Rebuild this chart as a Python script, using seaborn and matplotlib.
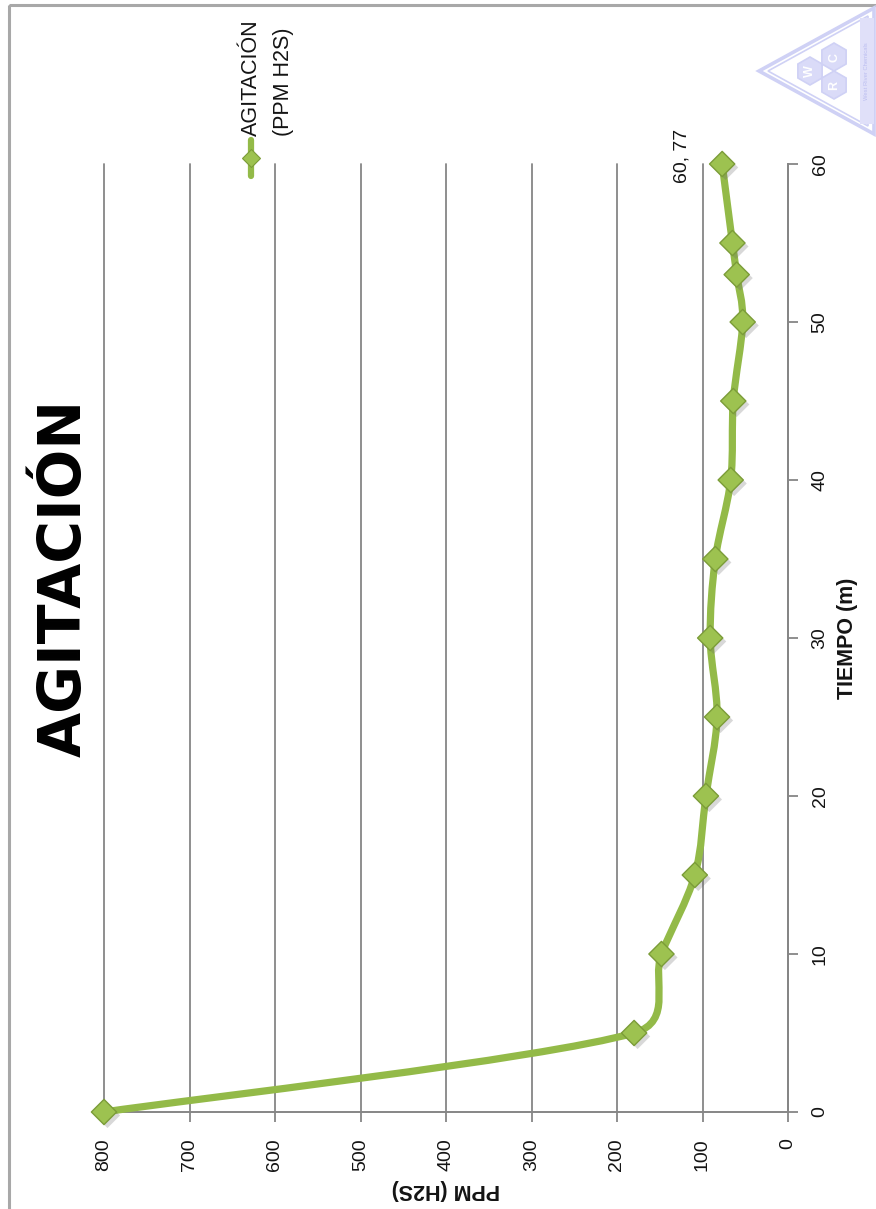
import numpy as np
import matplotlib
matplotlib.use("Agg")
import matplotlib.pyplot as plt
import matplotlib.patheffects as pe
from matplotlib.path import Path
from matplotlib.patches import PathPatch, Polygon, RegularPolygon, Rectangle
from matplotlib.lines import Line2D
from matplotlib import font_manager as fm
import seaborn as sns

# ---- data ---------------------------------------------------------------
tiempo_min = [0, 5, 10, 15, 20, 25, 30, 35, 40, 45, 50, 53, 55, 60]
ppm_h2s = [800, 180, 148, 109, 96, 83, 91, 85, 67, 64, 53, 60, 65, 77]
ppm_ticks = [0, 100, 200, 300, 400, 500, 600, 700, 800]
tiempo_ticks = [0, 10, 20, 30, 40, 50, 60]

titulo = "AGITACIÓN"
serie = "AGITACIÓN"
serie_unidad = "(PPM H2S)"
eje_ppm = "PPM (H2S)"
eje_tiempo = "TIEMPO (m)"

# ---- style --------------------------------------------------------------
sns.set_theme(style="white")
avail = {f.name for f in fm.fontManager.ttflist}


def pick(*names):
    for n in names:
        if n in avail:
            return n
    return "DejaVu Sans"


body_font = pick("Liberation Sans Narrow", "Liberation Sans", "Open Sans")
title_font = pick("DejaVu Sans")
plt.rcParams["font.family"] = [body_font, "DejaVu Sans"]

W, H = 876, 1209
LINE = "#93BA48"
MFACE = "#9DC250"
MEDGE = "#7B9C38"
AXC = "#868686"
TXT = "#141414"
FS = 14

fig = plt.figure(figsize=(W / 100, H / 100), dpi=100)
fig.patch.set_facecolor("white")

# plot area: ppm 800..0 left->right, time 0..60 bottom->top
left, right, top, bottom = 104, 788, 164, 1112
ax = fig.add_axes([left / W, 1 - bottom / H, (right - left) / W, (bottom - top) / H])
ax.set_xlim(800, 0)
ax.set_ylim(0, 60)
ax.set_facecolor("none")

for s in ("top", "left"):
    ax.spines[s].set_visible(False)
for s in ("bottom", "right"):
    ax.spines[s].set_color(AXC)
    ax.spines[s].set_linewidth(1.4)

ax.set_xticks(ppm_ticks)
ax.set_yticks(tiempo_ticks)
ax.yaxis.tick_right()
ax.yaxis.set_label_position("right")
ax.tick_params(axis="both", direction="out", length=7, width=1.3, color=AXC,
               labelsize=FS, labelcolor=TXT)
ax.tick_params(axis="x", bottom=True, pad=12)
ax.tick_params(axis="y", right=True, left=False, pad=10)
for lab in ax.get_xticklabels():
    lab.set_rotation(90)
for lab in ax.get_yticklabels():
    lab.set_rotation(90)
    lab.set_va("center")

ax.grid(axis="x", color=AXC, linewidth=1.3)
ax.grid(axis="y", visible=False)
for g in ax.get_xgridlines():
    g.set_clip_on(False)

ax.set_xlabel(eje_ppm, fontsize=15.5, fontweight="bold", rotation=180, color=TXT, labelpad=6)
ax.set_ylabel(eje_tiempo, fontsize=15.5, fontweight="bold", rotation=90, color=TXT, labelpad=6)


# smoothed line in the style of spreadsheet charts (Bezier, screen-space control points)
def smooth_path(axes, xs, ys):
    pts = axes.transData.transform(np.column_stack([xs, ys]))
    n = len(pts)
    verts = [pts[0]]
    codes = [Path.MOVETO]
    for i in range(n - 1):
        p0 = pts[max(i - 1, 0)]
        p1 = pts[i]
        p2 = pts[i + 1]
        p3 = pts[min(i + 2, n - 1)]
        d02 = np.hypot(*(p2 - p0))
        d12 = np.hypot(*(p1 - p2))
        d13 = np.hypot(*(p3 - p1))
        f0 = 1 / 6 if d02 / 6 < d12 / 2 else d12 / 2 / d02
        f1 = 1 / 6 if d13 / 6 < d12 / 2 else d12 / 2 / d13
        c1 = p1 + (p2 - p0) * f0
        c2 = p2 - (p3 - p1) * f1
        verts += [c1, c2, p2]
        codes += [Path.CURVE4] * 3
    return Path(axes.transData.inverted().transform(np.array(verts)), codes)


curve = PathPatch(smooth_path(ax, ppm_h2s, tiempo_min), fill=False, edgecolor=LINE,
                  linewidth=5.2, capstyle="round", joinstyle="round", zorder=3,
                  clip_on=False)
ax.add_patch(curve)

sns.scatterplot(x=ppm_h2s, y=tiempo_min, marker="D", s=165, color=MFACE,
                edgecolor=MEDGE, linewidth=1.0, ax=ax, zorder=4, legend=False)
pts_coll = ax.collections[-1]
pts_coll.set_clip_on(False)
pts_coll.set_path_effects([
    pe.SimplePatchShadow(offset=(2.5, -2.5), alpha=0.25, shadow_rgbFace="#666666"), pe.Normal()])

# data label for the final reading
ax.annotate(f"{tiempo_min[-1]}, {ppm_h2s[-1]}", xy=(ppm_h2s[-1], tiempo_min[-1]),
            xytext=(-40, 8), textcoords="offset pixels", rotation=90,
            ha="center", va="center", fontsize=FS, color=TXT, zorder=5,
            annotation_clip=False)

# ---- overlay in pixel coordinates: frame, title, legend, badge -----------
ov = fig.add_axes([0, 0, 1, 1], zorder=10)
ov.set_xlim(0, W)
ov.set_ylim(H, 0)
ov.axis("off")
ov.patch.set_visible(False)

ov.add_patch(Rectangle((9, 5), W + 20, H + 20, fill=False, edgecolor="#a8a8a8", linewidth=2.2))

ov.text(64, 578, titulo, rotation=90, ha="center", va="center", fontsize=42,
        fontweight="bold", family=title_font, color="black")

ov.add_line(Line2D([251, 251], [140, 176], color=LINE, linewidth=4.5))
ov.add_line(Line2D([251], [158], marker="D", markersize=9, markerfacecolor=MFACE,
                   markeredgecolor=MEDGE, markeredgewidth=0.8, linestyle="none"))
ov.text(251, 136, serie, rotation=90, ha="center", va="bottom", fontsize=15.5, color=TXT)
ov.text(284, 136, serie_unidad, rotation=90, ha="center", va="bottom", fontsize=15.5, color=TXT)

# faint badge in the corner
bc = "#cfd1f5"
ov.add_patch(Polygon([(759, 71), (874, 8), (874, 134)], closed=True, fill=False,
                     edgecolor=bc, linewidth=2.6))
ov.add_patch(Polygon([(768, 71), (868, 16), (868, 126)], closed=True, fill=False,
                     edgecolor=bc, linewidth=1.2))
ov.add_patch(Rectangle((860, 18), 14, 106, facecolor="#e0e0f9", edgecolor="none"))
ov.text(867, 71, "West River Chemicals", rotation=90, ha="center", va="center",
        fontsize=4.2, color="#bcbef0")
for (cx, cy), letter in zip([(810, 71), (834, 57), (834, 85)], ["W", "C", "R"]):
    ov.add_patch(RegularPolygon((cx, cy), numVertices=6, radius=14, orientation=0,
                                facecolor="#dadbf8", edgecolor=bc, linewidth=1.2))
    ov.text(cx, cy, letter, rotation=90, ha="center", va="center", fontsize=9,
            fontweight="bold", color="white")

fig.savefig("out.png", dpi=100, facecolor="white")
